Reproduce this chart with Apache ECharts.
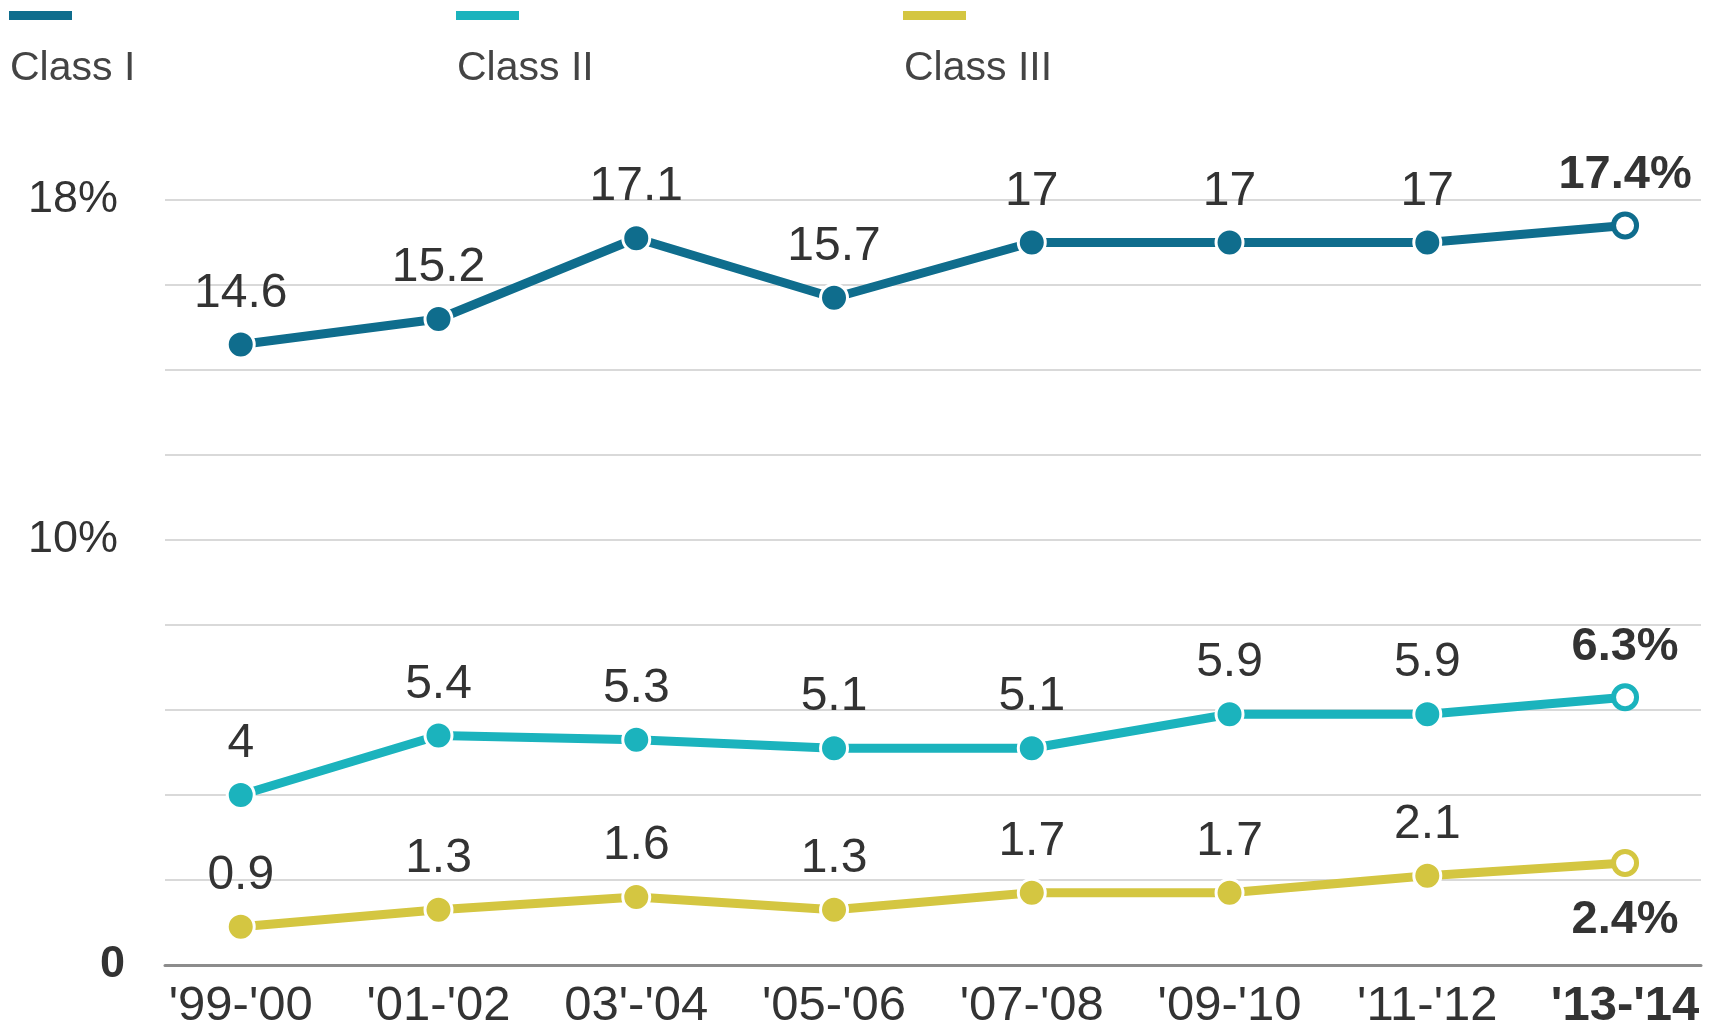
<!DOCTYPE html>
<html>
<head>
<meta charset="utf-8">
<script src="https://cdn.jsdelivr.net/npm/echarts@6/dist/echarts.min.js"></script>
</head>
<body style="margin:0;background:#fff">
<div id="main" style="width:1723px;height:1027px;"></div>
<script>
let years = ["'99-'00", "'01-'02", "03'-'04", "'05-'06", "'07-'08", "'09-'10", "'11-'12", "'13-'14"]
let classI = [14.6, 15.2, 17.1, 15.7, 17, 17, 17, 17.4]
let classII = [4, 5.4, 5.3, 5.1, 5.1, 5.9, 5.9, 6.3]
let classIII = [0.9, 1.3, 1.6, 1.3, 1.7, 1.7, 2.1, 2.4]
let names = ['Class I', 'Class II', 'Class III']
let yTickLabels = {0: '{b|0}', 10: '10%', 18: '18%'}

let values = [classI, classII, classIII]
let colors = ['#0f6d8d', '#1bb3bd', '#d4c641']
let lastPos = ['top', 'top', 'bottom']
let font = 'Liberation Sans, Arial, sans-serif'

var chart = echarts.init(document.getElementById('main'))

let legendGraphics = []
names.forEach((n, s) => {
  legendGraphics.push({
    type: 'rect', left: 9 + 447 * s, top: 11,
    shape: {width: 63, height: 9},
    style: {fill: colors[s]}
  })
  legendGraphics.push({
    type: 'text', left: 10 + 447 * s, top: 48,
    style: {text: n, font: '41px ' + font, fill: '#444'}
  })
})

let series = names.map((n, s) => {
  let last = values[s].length - 1
  return {
    name: n,
    type: 'line',
    animation: false,
    symbol: 'circle',
    symbolSize: 27,
    lineStyle: {width: 9, color: colors[s]},
    itemStyle: {color: colors[s], borderColor: '#fff', borderWidth: 3},
    label: {
      show: true, position: 'top', distance: 12,
      fontSize: 48, color: '#333', fontFamily: font,
      formatter: p => p.value[1]
    },
    data: values[s].map((v, i) => {
      let item = {value: [i, v]}
      if (i === last) {
        item.symbolSize = 23
        item.itemStyle = {color: '#fff', borderColor: colors[s], borderWidth: 5}
        item.label = {
          position: lastPos[s], fontWeight: 'bold', fontSize: 47,
          distance: lastPos[s] === 'bottom' ? 20 : 13,
          formatter: p => p.value[1] + '%'
        }
      }
      return item
    })
  }
})

option = {
  backgroundColor: '#fff',
  textStyle: {fontFamily: font},
  graphic: legendGraphics,
  grid: {left: 165, right: 22, top: 200, bottom: 62, outerBoundsMode: 'none', containLabel: false},
  xAxis: {
    type: 'value',
    min: -0.383,
    max: 7.384,
    splitLine: {show: false},
    axisTick: {show: false},
    axisLine: {show: true, onZero: false, lineStyle: {color: '#8c8c8c', width: 3}},
    axisLabel: {
      customValues: years.map((y, i) => i),
      fontSize: 49, color: '#333', margin: 17,
      formatter: v => v === years.length - 1 ? '{b|' + years[v] + '}' : years[v],
      rich: {b: {fontSize: 49, fontWeight: 'bold', color: '#333'}}
    }
  },
  yAxis: {
    type: 'value',
    min: 0, max: 18, interval: 2,
    axisLine: {show: false},
    axisTick: {show: false},
    splitLine: {lineStyle: {color: '#d9d9d9', width: 2}},
    axisLabel: {
      fontSize: 45, color: '#333', margin: 47,
      formatter: v => yTickLabels[v] || '',
      rich: {b: {fontSize: 45, fontWeight: 'bold', color: '#333', padding: [0, -7, 0, 0]}}
    }
  },
  series: series
}
chart.setOption(option)
</script>
</body>
</html>
